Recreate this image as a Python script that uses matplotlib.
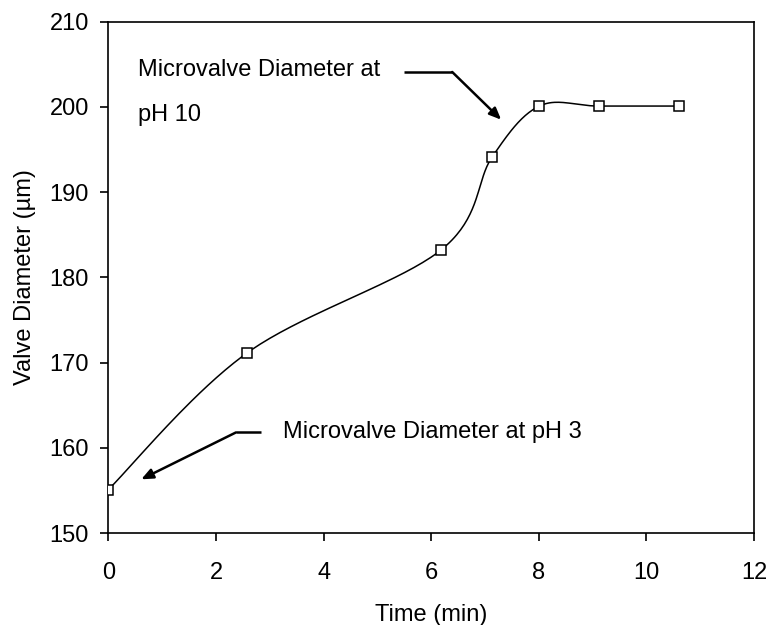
import numpy as np
import matplotlib
matplotlib.use("Agg")
import matplotlib.pyplot as plt

time_min = [0.0, 2.57, 6.18, 7.13, 8.01, 9.11, 10.6]
diameter_um = [155.1, 171.1, 183.2, 194.1, 200.1, 200.1, 200.1]
x_ticks = [0, 2, 4, 6, 8, 10, 12]
y_ticks = [150, 160, 170, 180, 190, 200, 210]

plt.rcParams['font.family'] = ['Liberation Sans', 'DejaVu Sans']
FS = 17

fig = plt.figure(figsize=(7.69, 6.25), dpi=100)
ax = fig.add_axes([0.141, 0.1472, 0.8395, 0.8181])
ax.set_xlim(0, 12)
ax.set_ylim(150, 210)

# Excel-style smoothed line (Catmull-Rom Bezier in screen-scaled units)
sx, sy = 53.8, 8.53
P = np.column_stack([np.array(time_min) * sx, np.array(diameter_um) * sy])
n = len(P)
curve = [P[0]]
t = np.linspace(0, 1, 40)[1:]
for i in range(n - 1):
    p0 = P[i - 1] if i > 0 else P[i]
    p1 = P[i]
    p2 = P[i + 1]
    p3 = P[i + 2] if i + 2 < n else P[i + 1]
    c1 = p1 + (p2 - p0) / 6.0
    c2 = p2 - (p3 - p1) / 6.0
    for tt in t:
        b = ((1 - tt) ** 3) * p1 + 3 * ((1 - tt) ** 2) * tt * c1 + 3 * (1 - tt) * tt ** 2 * c2 + tt ** 3 * p2
        curve.append(b)
curve = np.array(curve)
ax.plot(curve[:, 0] / sx, curve[:, 1] / sy, color='black', lw=1.1, zorder=2)
ax.plot(time_min, diameter_um, linestyle='none', marker='s', markersize=6.5,
        markerfacecolor='white', markeredgecolor='black', markeredgewidth=1.1, zorder=3)

# Annotation: pH 10
ax.text(0.556, 204.3, 'Microvalve Diameter at', fontsize=FS, ha='left', va='center')
ax.text(0.556, 199.1, 'pH 10', fontsize=FS, ha='left', va='center')
ax.plot([5.49, 6.39], [204.1, 204.1], color='black', lw=1.8, solid_capstyle='butt')
ax.annotate('', xy=(7.30, 198.5), xytext=(6.39, 204.1),
            arrowprops=dict(arrowstyle='-|>,head_length=0.7,head_width=0.3', color='black', lw=1.8,
                            shrinkA=0, shrinkB=0))

# Annotation: pH 3
ax.text(3.24, 161.8, 'Microvalve Diameter at pH 3', fontsize=FS, ha='left', va='center')
ax.plot([2.83, 2.37], [161.8, 161.8], color='black', lw=1.8, solid_capstyle='butt')
ax.annotate('', xy=(0.61, 156.3), xytext=(2.37, 161.8),
            arrowprops=dict(arrowstyle='-|>,head_length=0.7,head_width=0.3', color='black', lw=1.8,
                            shrinkA=0, shrinkB=0))

ax.set_xticks(x_ticks)
ax.set_yticks(y_ticks)
ax.set_xticklabels([str(v) for v in x_ticks])
ax.set_yticklabels([str(v) for v in y_ticks])
ax.tick_params(axis='both', direction='out', length=6, width=1.2, labelsize=FS, color='black')
ax.tick_params(axis='x', pad=15)
ax.tick_params(axis='y', pad=8)
for s in ax.spines.values():
    s.set_linewidth(1.2)
    s.set_color('black')

ax.set_xlabel('Time (min)', fontsize=FS, labelpad=14.5)
ax.set_ylabel('Valve Diameter (µm)', fontsize=FS, labelpad=9.5)

fig.savefig('out.png', dpi=100)
